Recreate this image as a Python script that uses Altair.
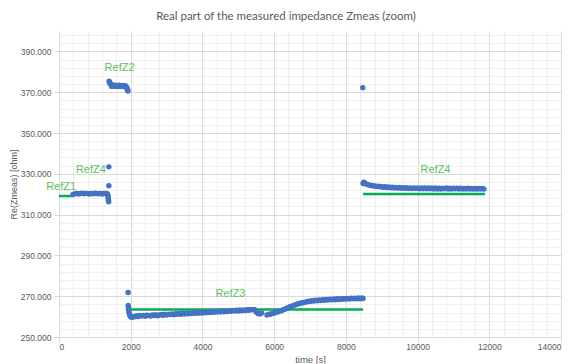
import altair as alt
import pandas as pd

# ---------------- data ----------------
# measured Re(Zmeas) [ohm] vs time [s]
seg1_t = [390, 450, 500, 550, 600, 650, 700, 750, 800, 850, 900, 950, 1000, 1050,
          1100, 1150, 1200, 1250, 1300, 1340, 1360, 1370, 1375, 1380, 1385, 1390, 1390]
seg1_v = [319.8, 320.2, 320.4, 320.1, 320.3, 320.5, 320.2, 320.4, 320.3, 320.1, 320.4,
          320.2, 320.5, 320.3, 320.2, 320.4, 320.1, 320.3, 320.4, 320.2, 319.6, 318.6,
          317.6, 316.8, 316.3, 324.2, 333.4]

seg2_t = [1400, 1410, 1420, 1440, 1460, 1480, 1500, 1530, 1560, 1590, 1620, 1650, 1680,
          1710, 1740, 1770, 1800, 1830, 1860, 1880, 1895, 1905, 1915, 1922]
seg2_v = [375.4, 374.9, 374.3, 373.9, 373.6, 373.2, 373.5, 372.9, 373.4, 373.0, 373.3,
          372.8, 373.4, 372.9, 373.2, 372.8, 373.3, 372.9, 373.1, 372.6, 372.0, 371.4,
          371.0, 370.6]

seg3_t = [1927, 1930, 1935, 1940, 1950, 1960, 1975, 1990, 2010, 2040, 2080, 2120,
          2160, 2200, 2250, 2300, 2350, 2400, 2450, 2500, 2550, 2600, 2650, 2700, 2750,
          2800, 2850, 2900, 2950, 3000, 3050, 3100, 3150, 3200, 3250, 3300, 3350, 3400,
          3450, 3500, 3550, 3600, 3650, 3700, 3750, 3800, 3850, 3900, 3950, 4000, 4050,
          4100, 4150, 4200, 4250, 4300, 4350, 4400, 4450, 4500, 4550, 4600, 4650, 4700,
          4750, 4800, 4850, 4900, 4950, 5000, 5050, 5100, 5150, 5200, 5250, 5300, 5350,
          5400, 5450, 5500, 5550, 5600, 5650,
          5800, 5850, 5900, 5950, 6000, 6050, 6100, 6150, 6200, 6250, 6300, 6350, 6400,
          6450, 6500, 6550, 6600, 6650, 6700, 6750, 6800, 6850, 6900, 6950, 7000, 7050,
          7100, 7150, 7200, 7250, 7300, 7350, 7400, 7450, 7500, 7550, 7600, 7650, 7700,
          7750, 7800, 7850, 7900, 7950, 8000, 8050, 8100, 8150, 8200, 8250, 8300, 8350,
          8400, 8450, 8480]
seg3_v = [271.8, 265.5, 264.6, 263.6, 262.5, 261.6, 260.8, 260.2, 259.8, 259.7, 259.9,
          260.0, 260.4, 260.0, 260.5, 260.3, 260.6, 260.2, 260.7, 260.5, 260.3, 260.8,
          260.5, 260.9, 260.4, 260.8, 261.0, 260.7, 261.1, 260.8, 261.2, 261.0, 261.3,
          260.9, 261.4, 261.1, 261.5, 261.2, 261.6, 261.3, 261.7, 261.4, 261.8, 261.5,
          261.9, 261.6, 262.0, 261.7, 262.1, 261.8, 262.2, 261.9, 262.3, 262.0, 262.4,
          262.1, 262.5, 262.2, 262.6, 262.3, 262.7, 262.4, 262.8, 262.5, 262.9, 262.6,
          263.0, 262.7, 263.1, 262.8, 263.2, 262.9, 263.3, 263.0, 263.4, 263.1, 263.5,
          263.3, 263.5, 262.2, 261.5, 261.3, 261.8,
          260.8, 261.2, 261.1, 261.6, 261.7, 262.2, 262.3, 262.8, 262.9, 263.4, 263.6,
          264.1, 264.4, 264.9, 265.1, 265.6, 265.8, 266.2, 266.4, 266.7, 266.8, 267.1,
          267.1, 267.5, 267.4, 267.8, 267.6, 268.0, 267.8, 268.2, 267.9, 268.3, 268.0,
          268.4, 268.1, 268.5, 268.2, 268.6, 268.3, 268.7, 268.4, 268.8, 268.5, 268.9,
          268.6, 268.9, 268.6, 269.0, 268.7, 269.0, 268.8, 269.1, 268.8, 269.1, 268.9]

seg4_t = [8471, 8480, 8500, 8520, 8550, 8600, 8650, 8700, 8750, 8800, 8850, 8900, 8950,
          9000, 9050, 9100, 9150, 9200, 9250, 9300, 9350, 9400, 9450, 9500, 9550, 9600,
          9650, 9700, 9750, 9800, 9850, 9900, 9950, 10000, 10050, 10100, 10150, 10200,
          10250, 10300, 10350, 10400, 10450, 10500, 10550, 10600, 10650, 10700, 10750,
          10800, 10850, 10900, 10950, 11000, 11050, 11100, 11150, 11200, 11250, 11300,
          11350, 11400, 11450, 11500, 11550, 11600, 11650, 11700, 11750, 11800, 11850]
seg4_v = [372.2, 325.2, 325.9, 325.6, 325.1, 324.8, 324.5, 324.3, 324.1, 324.0, 323.8,
          323.9, 323.6, 323.7, 323.4, 323.6, 323.3, 323.5, 323.2, 323.4, 323.1, 323.3,
          323.0, 323.3, 322.9, 323.2, 322.9, 323.2, 322.8, 323.1, 322.8, 323.1, 322.8,
          323.0, 322.7, 323.0, 322.7, 323.1, 322.7, 323.0, 322.7, 323.0, 322.6, 323.0,
          322.6, 322.9, 322.6, 322.9, 322.7, 323.0, 322.6, 322.9, 322.6, 322.9, 322.7,
          322.9, 322.6, 322.9, 322.6, 322.8, 322.6, 322.9, 322.5, 322.8, 322.6, 322.8,
          322.5, 322.8, 322.6, 322.8, 322.6]

# reference values (green lines)
ref_name = ["RefZ1", "RefZ4", "RefZ2", "RefZ3", "RefZ4"]
ref_start = [0, 1385, 1400, 1990, 8480]
ref_end = [380, 1425, 1900, 8480, 11880]
ref_value = [319.1, 320.3, 372.3, 263.5, 320.1]

# label anchor points
lab_text = ["RefZ1", "RefZ4", "RefZ2", "RefZ3", "RefZ4"]
lab_t = [60, 890, 1690, 4780, 10500]
lab_v = [323.7, 331.9, 381.8, 271.3, 331.9]

# axis ticks
x_major = [0, 2000, 4000, 6000, 8000, 10000, 12000, 14000]
y_major = [250, 270, 290, 310, 330, 350, 370, 390]
x_minor = [v for v in range(0, 14001, 400)]
y_minor = [v for v in range(250, 401, 4)]

# ---------------- build tables ----------------
meas = pd.DataFrame({
    "t": seg1_t + seg2_t + seg3_t + seg4_t,
    "v": seg1_v + seg2_v + seg3_v + seg4_v,
})
refs = pd.DataFrame({"name": ref_name, "t0": ref_start, "t1": ref_end, "v": ref_value})
labels = pd.DataFrame({"text": lab_text, "t": lab_t, "v": lab_v})

xs = alt.Scale(domain=[0, 14000], nice=False, zero=False)
ys = alt.Scale(domain=[250, 400], nice=False, zero=False)

GRID_MAJOR = "#d9d9d9"
GRID_MINOR = "#efefef"
TXT = "#595959"
FONT = "Liberation Sans"

minor = alt.Chart(meas).mark_point(opacity=0).encode(
    x=alt.X("t:Q", scale=xs, axis=alt.Axis(values=x_minor, grid=True, gridColor=GRID_MINOR,
                                            labels=False, ticks=False, domain=False,
                                            title=None, orient="bottom")),
    y=alt.Y("v:Q", scale=ys, axis=alt.Axis(values=y_minor, grid=True, gridColor=GRID_MINOR,
                                            labels=False, ticks=False, domain=False,
                                            title=None, orient="left")),
)

lines = alt.Chart(refs).mark_rule(color="#00b050", strokeWidth=2.5).encode(
    x=alt.X("t0:Q", scale=xs, axis=None),
    x2="t1:Q",
    y=alt.Y("v:Q", scale=ys, axis=None),
)

points = alt.Chart(meas).mark_circle(size=30, color="#4472c4", opacity=1).encode(
    x=alt.X("t:Q", scale=xs, axis=alt.Axis(
        values=x_major, format="d", grid=True, gridColor=GRID_MAJOR, domain=False,
        ticks=True, tickColor=GRID_MAJOR, tickSize=5, labelPadding=0,
        labelFont=FONT, labelFontSize=8.5, labelColor=TXT,
        title="time [s]", titleFont=FONT, titleFontSize=9.5, titleFontWeight="normal",
        titleColor=TXT, titlePadding=4, orient="bottom")),
    y=alt.Y("v:Q", scale=ys, axis=alt.Axis(
        values=y_major, format=".3f", grid=True, gridColor=GRID_MAJOR, domain=False,
        ticks=True, tickColor=GRID_MAJOR, tickSize=5, labelPadding=3,
        labelFont=FONT, labelFontSize=8.5, labelColor=TXT,
        title="Re(Zmeas) [ohm]", titleFont=FONT, titleFontSize=9, titleFontWeight="normal",
        titleColor=TXT, titlePadding=2, orient="left")),
)

texts = alt.Chart(labels).mark_text(font=FONT, fontSize=11, color="#5cbf5c",
                                     baseline="middle", align="center").encode(
    x=alt.X("t:Q", scale=xs, axis=None),
    y=alt.Y("v:Q", scale=ys, axis=None),
    text="text:N",
)

chart = alt.layer(minor, lines, points, texts).resolve_axis(
    x="independent", y="independent"
).properties(
    width=502,
    height=306,
    autosize="none",
    padding={"left": 51, "top": 23, "right": 3, "bottom": 32},
    background="white",
    title=alt.TitleParams(
        "Real part of the measured impedance Zmeas (zoom)",
        font="Lato", fontSize=11.5, fontWeight="normal",
        color=TXT, anchor="middle", dx=-24, offset=9,
    ),
).configure_view(stroke=None)

chart.save("out.html", embed_options={"renderer": "svg", "actions": False})
